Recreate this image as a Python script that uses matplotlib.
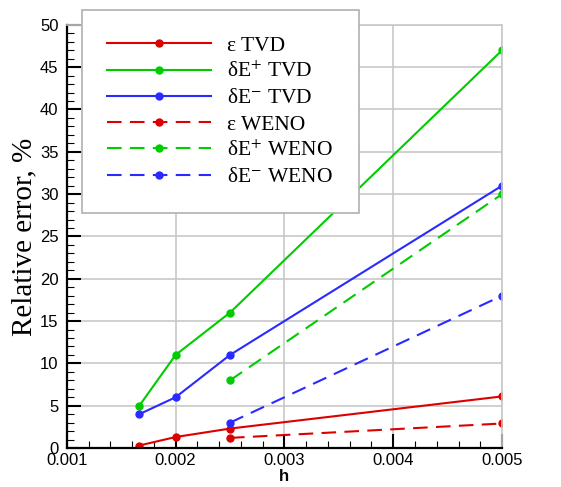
import matplotlib
matplotlib.use("Agg")
import matplotlib.pyplot as plt
from matplotlib.ticker import MultipleLocator, FormatStrFormatter

# data
h_tvd = [1 / 600, 0.002, 0.0025, 0.005]
h_weno = [0.0025, 0.005]

eps_tvd = [0.3, 1.3, 2.3, 6.1]
dEp_tvd = [5, 11, 16, 47]
dEm_tvd = [4, 6, 11, 31]

eps_weno = [1.2, 2.9]
dEp_weno = [8, 30]
dEm_weno = [3, 18]

labels = ["ε TVD", "δE$^{+}$ TVD", "δE$^{-}$ TVD",
          "ε WENO", "δE$^{+}$ WENO", "δE$^{-}$ WENO"]

red = "#dd0000"
green = "#00cc00"
blue = "#2a2aff"

plt.rcParams["font.family"] = ["Liberation Sans", "DejaVu Sans"]
plt.rcParams["mathtext.fontset"] = "stix"

fig = plt.figure(figsize=(5.61, 4.87), dpi=100)
ax = fig.add_axes([0.119, 0.080, 0.776, 0.869])

dash = (0, (7, 4))
kw = dict(marker="o", markersize=5, linewidth=1.5)
ax.plot(h_tvd, eps_tvd, color=red, label=labels[0], **kw)
ax.plot(h_tvd, dEp_tvd, color=green, label=labels[1], **kw)
ax.plot(h_tvd, dEm_tvd, color=blue, label=labels[2], **kw)
ax.plot(h_weno, eps_weno, color=red, linestyle=dash, label=labels[3], **kw)
ax.plot(h_weno, dEp_weno, color=green, linestyle=dash, label=labels[4], **kw)
ax.plot(h_weno, dEm_weno, color=blue, linestyle=dash, label=labels[5], **kw)

ax.set_xlim(0.001, 0.005)
ax.set_ylim(0, 50)
ax.xaxis.set_major_locator(MultipleLocator(0.001))
ax.xaxis.set_minor_locator(MultipleLocator(0.0002))
ax.xaxis.set_major_formatter(FormatStrFormatter("%.3f"))
ax.yaxis.set_major_locator(MultipleLocator(5))
ax.yaxis.set_minor_locator(MultipleLocator(1))

ax.grid(True, which="major", color="#c8c8c8", linewidth=1.2)
ax.set_axisbelow(True)
ax.tick_params(which="major", direction="in", length=10, width=1.5, labelsize=12)
ax.tick_params(axis="y", which="major", pad=6)
ax.tick_params(which="minor", direction="in", length=5, width=0.8)

for s in ["top", "right"]:
    ax.spines[s].set_color("#c8c8c8")
    ax.spines[s].set_linewidth(1.2)
for s in ["left", "bottom"]:
    ax.spines[s].set_color("black")
    ax.spines[s].set_linewidth(1.6)

ax.set_xlabel("h", fontsize=12, fontweight="bold", labelpad=1)
ax.set_ylabel("Relative error, %", fontsize=21, family="Liberation Serif", labelpad=2)

leg = ax.legend(loc="upper left", bbox_to_anchor=(0.034, 1.035), handlelength=4.8,
                prop={"family": "Liberation Serif", "size": 15.5}, frameon=True,
                fancybox=False, edgecolor="#b0b0b0", framealpha=1,
                borderpad=1.2, labelspacing=0.28, handletextpad=0.75,
                borderaxespad=0)
leg.get_frame().set_linewidth(1.2)
leg.set_zorder(5)

fig.savefig("out.png", dpi=100)
